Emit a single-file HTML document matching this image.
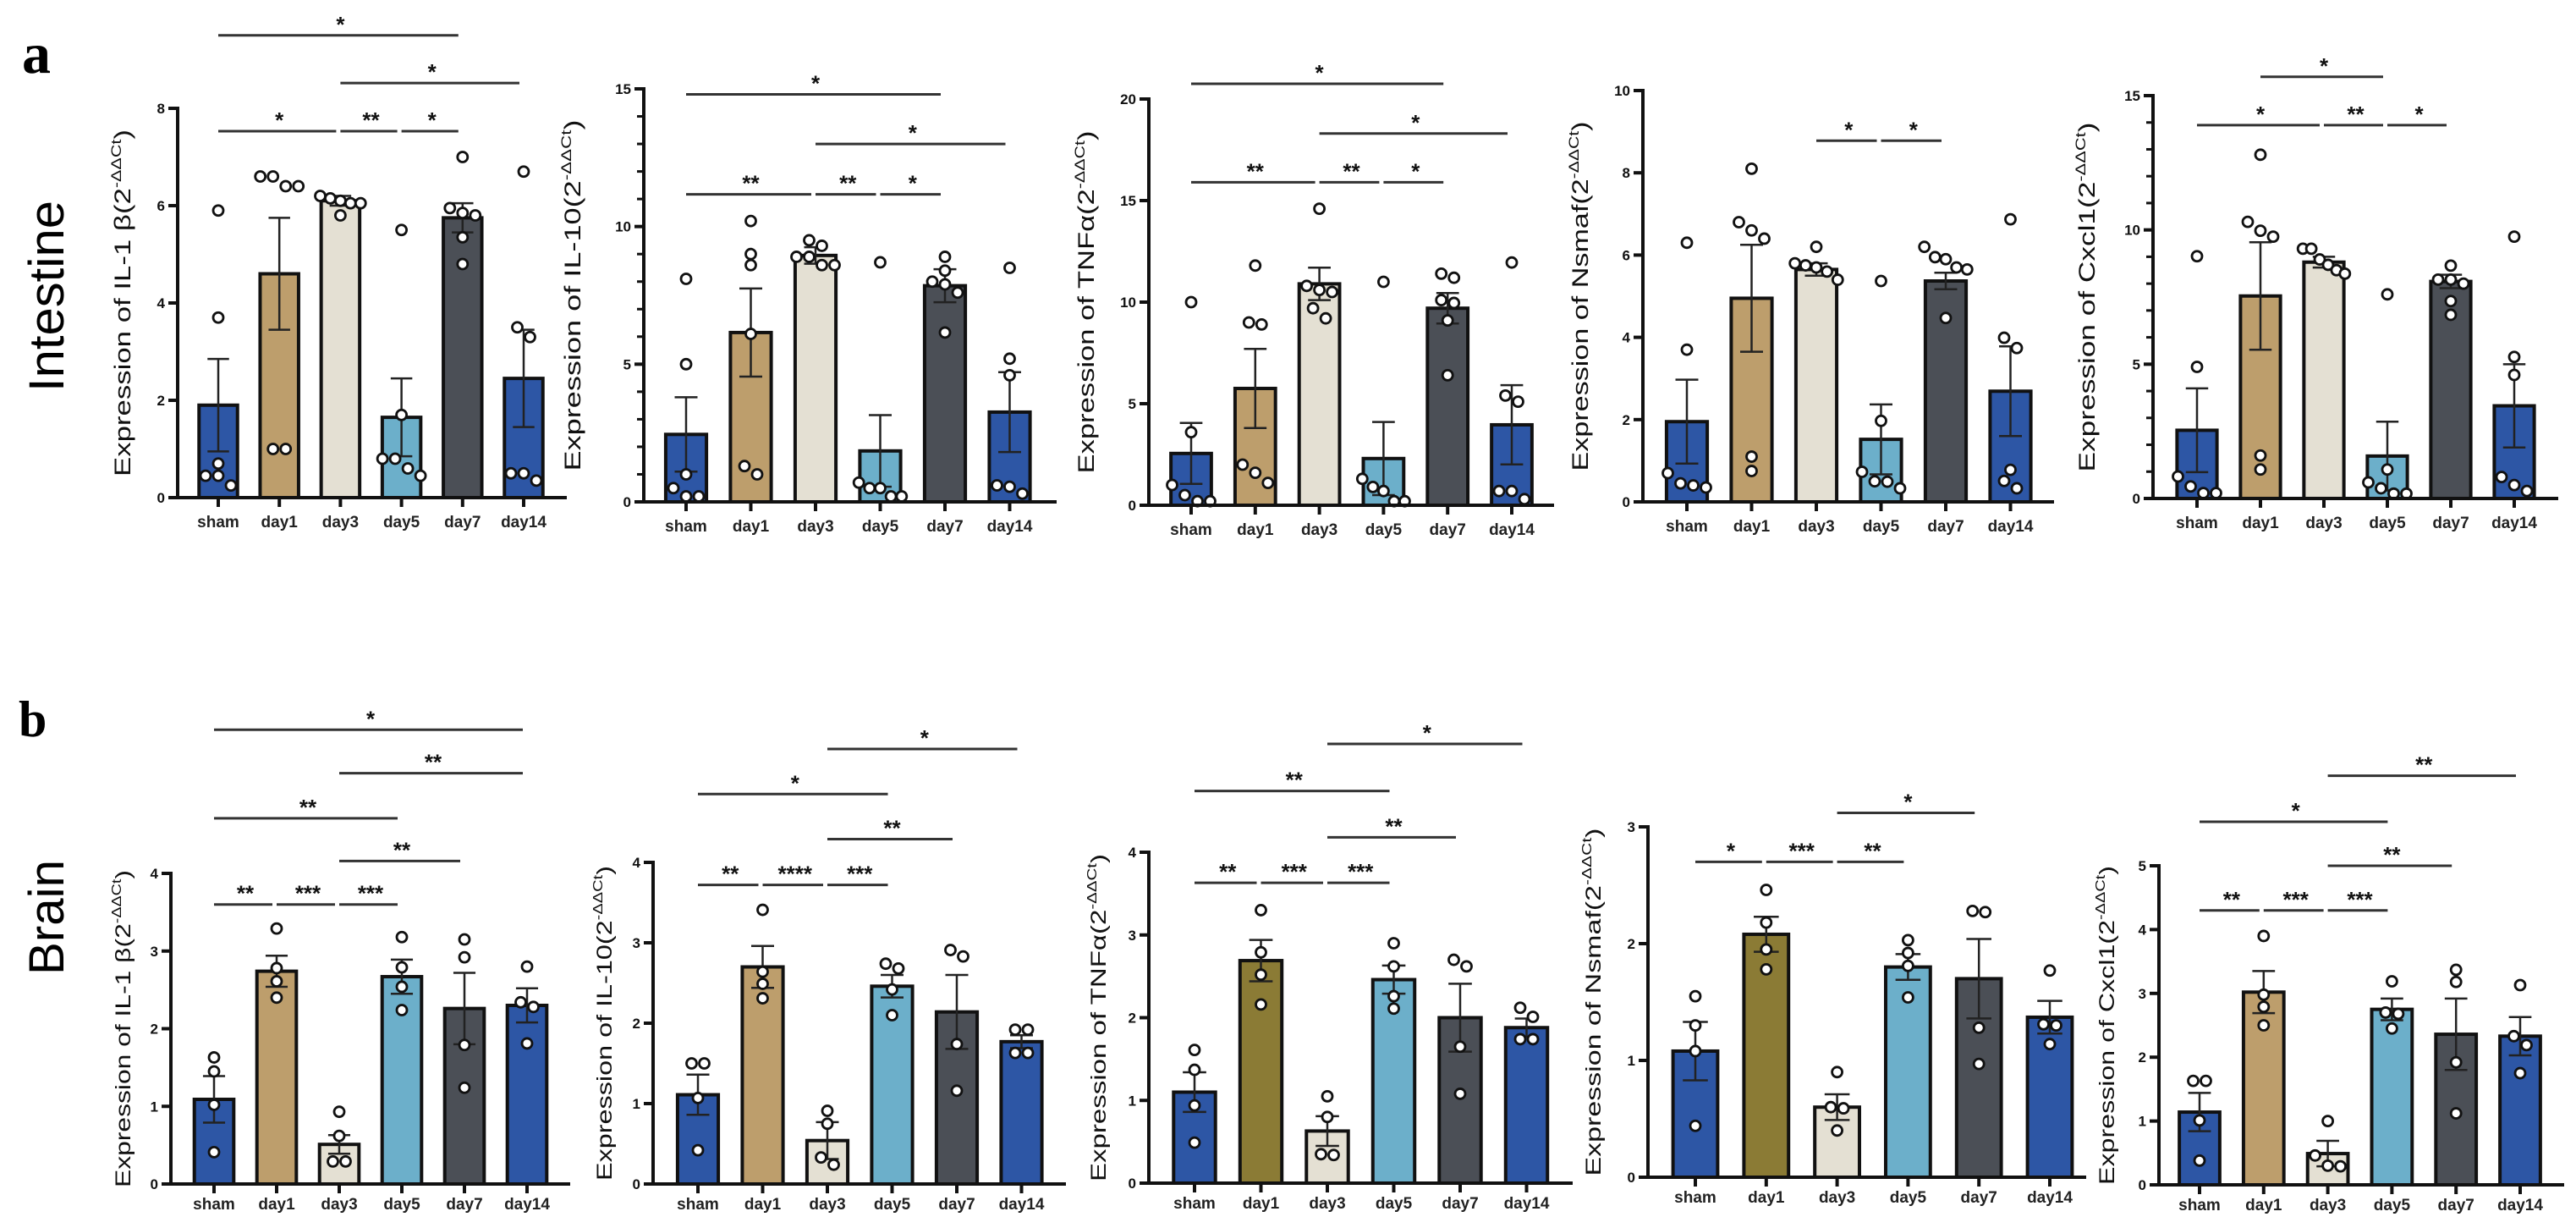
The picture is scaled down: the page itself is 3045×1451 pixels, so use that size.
<!DOCTYPE html>
<html><head><meta charset="utf-8"><style>
html,body{margin:0;padding:0;background:#fff;}
svg{display:block;font-family:"Liberation Sans",Arial,sans-serif;}
</style></head><body>
<svg id="fig" width="3045" height="1451" viewBox="0 0 3045 1451" xmlns="http://www.w3.org/2000/svg">
<text x="26" y="86" font-family="Liberation Serif,serif" font-weight="bold" font-size="68">a</text>
<text x="22" y="870" font-family="Liberation Serif,serif" font-weight="bold" font-size="60">b</text>
<text transform="translate(75,350) rotate(-90)" text-anchor="middle" font-size="58" textLength="226" lengthAdjust="spacingAndGlyphs">Intestine</text>
<text transform="translate(75,1084) rotate(-90)" text-anchor="middle" font-size="58" textLength="136" lengthAdjust="spacingAndGlyphs">Brain</text>
</svg>
<script>
const categories = ["sham","day1","day3","day5","day7","day14"];

// ---- Intestine IL-1b
const t1Means = [1.9, 4.6, 6.1, 1.65, 5.75, 2.45];
const t1Sems = [0.95, 1.15, 0.1, 0.8, 0.3, 1.0];
const t1Points = [[5.9,3.7,0.7,0.45,0.45,0.25],[6.6,6.4,6.6,6.4,1.0,1.0],[6.15,6.05,6.05,6.1,6.2,5.8],[5.5,1.7,0.8,0.8,0.45,0.6],[7.0,5.85,5.95,5.8,5.35,4.8],[6.7,3.5,3.3,0.5,0.35,0.5]];
const t1Sig = [[0,2,"*",7.53],[2,3,"**",7.53],[3,4,"*",7.53],[2,5,"*",8.52],[0,4,"*",9.5]];
const t1Ticks = [0,2,4,6,8];
// ---- Intestine IL-10
const t2Means = [2.45, 6.15, 8.95, 1.85, 7.85, 3.26];
const t2Sems = [1.35, 1.6, 0.3, 1.3, 0.6, 1.45];
const t2Points = [[8.1,5.0,1.0,0.5,0.2,0.2],[10.2,9.0,8.6,6.1,1.3,1.0],[9.3,9.5,8.9,8.6,8.6,8.9],[8.7,0.7,0.5,0.5,0.2,0.2],[8.9,8.4,8.0,7.9,7.6,6.15],[8.5,5.2,4.6,0.6,0.3,0.55]];
const t2Sig = [[0,2,"**",11.17],[2,3,"**",11.17],[3,4,"*",11.17],[2,5,"*",13.0],[0,4,"*",14.8]];
const t2Ticks = [0,5,10,15];
// ---- Intestine TNFa
const t3Means = [2.55, 5.75, 10.9, 2.3, 9.7, 3.96];
const t3Sems = [1.5, 1.95, 0.8, 1.8, 0.75, 1.95];
const t3Points = [[10.0,3.6,1.0,0.5,0.2,0.2],[11.8,9.0,8.9,2.0,1.6,1.1],[14.6,10.8,10.6,10.5,9.7,9.2],[11.0,1.3,0.7,0.9,0.2,0.2],[11.2,11.4,9.96,10.1,9.1,6.4],[11.95,5.4,5.1,0.3,0.7,0.7]];
const t3Sig = [[0,2,"**",15.9],[2,3,"**",15.9],[3,4,"*",15.9],[2,5,"*",18.3],[0,4,"*",20.75]];
const t3Ticks = [0,5,10,15,20];
// ---- Intestine Nsmaf
const t4Means = [1.95, 4.95, 5.65, 1.52, 5.37, 2.69];
const t4Sems = [1.02, 1.3, 0.15, 0.85, 0.2, 1.09];
const t4Points = [[6.3,3.7,0.7,0.45,0.35,0.4],[8.1,6.8,6.6,6.4,1.1,0.75],[6.2,5.8,5.75,5.7,5.6,5.4],[5.37,1.97,0.73,0.49,0.5,0.33],[6.2,5.9,5.95,5.7,5.65,4.47],[6.87,3.99,3.74,0.78,0.33,0.51]];
const t4Sig = [[2,3,"*",8.78],[3,4,"*",8.78]];
const t4Ticks = [0,2,4,6,8,10];
// ---- Intestine Cxcl1
const t5Means = [2.54, 7.54, 8.8, 1.58, 8.08, 3.45];
const t5Sems = [1.56, 2.0, 0.2, 1.28, 0.25, 1.55];
const t5Points = [[9.02,4.9,0.82,0.45,0.2,0.2],[12.8,10.3,9.75,9.97,1.6,1.08],[9.3,9.3,8.9,8.7,8.5,8.37],[7.6,1.08,0.6,0.38,0.18,0.18],[8.67,8.15,8.15,8.0,7.35,6.84],[9.75,5.27,4.6,0.8,0.5,0.28]];
const t5Sig = [[0,2,"*",13.9],[2,3,"**",13.9],[3,4,"*",13.9],[1,3,"*",15.7]];
const t5Ticks = [0,5,10,15];

// ---- Brain IL-1b
const b1Means = [1.09, 2.74, 0.51, 2.67, 2.26, 2.3];
const b1Sems = [0.3, 0.2, 0.12, 0.22, 0.46, 0.22];
const b1Points = [[1.63,1.45,1.02,0.41],[3.29,2.78,2.61,2.4],[0.93,0.62,0.29,0.29],[3.18,2.79,2.54,2.24],[3.15,2.92,1.79,1.24],[2.8,2.34,2.28,1.81]];
const b1Sig = [[0,1,"**",3.6],[1,2,"***",3.6],[2,3,"***",3.6],[2,4,"**",4.16],[0,3,"**",4.71],[2,5,"**",5.29],[0,5,"*",5.85]];
const b1Ticks = [0,1,2,3,4];
// ---- Brain IL-10
const b2Means = [1.11, 2.7, 0.54, 2.46, 2.14, 1.77];
const b2Sems = [0.25, 0.26, 0.23, 0.14, 0.46, 0.08];
const b2Points = [[1.5,1.5,1.07,0.42],[3.41,2.64,2.49,2.31],[0.91,0.75,0.24,0.33],[2.68,2.74,2.42,2.1],[2.83,2.91,1.74,1.16],[1.92,1.92,1.63,1.63]];
const b2Sig = [[0,1,"**",3.72],[1,2,"****",3.72],[2,3,"***",3.72],[2,4,"**",4.29],[0,3,"*",4.85],[2,5,"*",5.41]];
const b2Ticks = [0,1,2,3,4];
// ---- Brain TNFa
const b3Means = [1.1, 2.69, 0.63, 2.46, 2.0, 1.88];
const b3Sems = [0.24, 0.25, 0.18, 0.17, 0.41, 0.11];
const b3Points = [[1.61,1.37,0.94,0.49],[3.3,2.79,2.52,2.16],[1.05,0.8,0.34,0.35],[2.9,2.62,2.26,2.11],[2.62,2.7,1.65,1.08],[2.12,2.01,1.74,1.74]];
const b3Sig = [[0,1,"**",3.63],[1,2,"***",3.63],[2,3,"***",3.63],[2,4,"**",4.18],[0,3,"**",4.74],[2,5,"*",5.31]];
const b3Ticks = [0,1,2,3,4];
// ---- Brain Nsmaf
const b4Means = [1.08, 2.08, 0.6, 1.8, 1.7, 1.37];
const b4Sems = [0.25, 0.15, 0.11, 0.11, 0.34, 0.14];
const b4Points = [[1.55,1.3,1.08,0.44],[2.46,2.18,1.95,1.78],[0.9,0.6,0.59,0.4],[2.03,1.92,1.81,1.54],[2.27,2.28,1.28,0.97],[1.77,1.31,1.3,1.14]];
const b4Sig = [[0,1,"*",2.7],[1,2,"***",2.7],[2,3,"**",2.7],[2,4,"*",3.12]];
const b4Ticks = [0,1,2,3];
// ---- Brain Cxcl1
const b5Means = [1.14, 3.02, 0.49, 2.75, 2.36, 2.33];
const b5Sems = [0.3, 0.33, 0.2, 0.17, 0.56, 0.3];
const b5Points = [[1.63,1.63,1.01,0.38],[3.9,2.98,2.79,2.5],[1.0,0.46,0.29,0.3],[3.19,2.7,2.68,2.45],[3.37,3.18,1.92,1.12],[3.13,2.33,2.19,1.75]];
const b5Sig = [[0,1,"**",4.3],[1,2,"***",4.3],[2,3,"***",4.3],[2,4,"**",5.0],[0,3,"*",5.69],[2,5,"**",6.41]];
const b5Ticks = [0,1,2,3,4,5];

const NS = "http://www.w3.org/2000/svg";
const svg = document.getElementById("fig");
const BLUE="#2d56a5", TAN="#bd9e6c", BEIGE="#e4e0d3", LBLUE="#6cafca", DARK="#4b4f56", OLIVE="#8b7b35";
const colTan = [BLUE,TAN,BEIGE,LBLUE,DARK,BLUE];
const colOlive = [BLUE,OLIVE,BEIGE,LBLUE,DARK,BLUE];

function mk(tag, attrs, parent){
  const e = document.createElementNS(NS, tag);
  for (const k in attrs) e.setAttribute(k, attrs[k]);
  (parent||svg).appendChild(e);
  return e;
}

function drawPanel(p){
  const g = mk("g", {});
  
  
  const y = v => p.y0 - v*(p.y0 - p.yTop)/p.ymax;
  const x = i => p.first + i*p.step;
  const bw = p.step*0.63;
  // bars
  p.means.forEach((m,i)=>{
    const r = mk("rect",{x:x(i)-bw/2,y:y(m),width:bw,height:p.y0-y(m),fill:p.colors[i],stroke:"#111","stroke-width":4},g);
    
    
  });
  // error bars
  p.means.forEach((m,i)=>{
    const s = p.sems[i], cw = bw*0.28;
    const eg = mk("g",{stroke:"#222","stroke-width":2.5},g);
    
    
    mk("line",{x1:x(i),x2:x(i),y1:y(m+s),y2:y(Math.max(0,m-s))},eg);
    mk("line",{x1:x(i)-cw,x2:x(i)+cw,y1:y(m+s),y2:y(m+s)},eg);
    mk("line",{x1:x(i)-cw,x2:x(i)+cw,y1:y(Math.max(0,m-s)),y2:y(Math.max(0,m-s))},eg);
  });
  // points with beeswarm-like spread
  const rr = 6;
  p.points.forEach((pts,i)=>{
    const ys = pts.map(v=>y(v)).sort((a,b)=>a-b);
    const clusters=[]; let cur=[ys[0]];
    for(let k=1;k<ys.length;k++){ if(ys[k]-cur[cur.length-1] < 2*rr+1) cur.push(ys[k]); else {clusters.push(cur); cur=[ys[k]];} }
    clusters.push(cur);
    clusters.forEach(c=>{
      const n=c.length, dx = n>1 ? Math.min(2*rr+3, bw*1.05/(n-1)) : 0;
      c.forEach((py,j)=>{
        const c0 = mk("circle",{cx:x(i)+(j-(n-1)/2)*dx, cy:py, r:rr, fill:"#fff", stroke:"#111","stroke-width":2.8},g);
        
        
      });
    });
  });
  // axes
  const ax = mk("g",{stroke:"#111","stroke-width":4,fill:"none"},g);
  
  
  mk("line",{x1:p.ax,x2:p.ax,y1:p.yTop-2,y2:p.y0+2},ax);
  mk("line",{x1:p.ax-8,x2:p.xEnd,y1:p.y0,y2:p.y0},ax);
  p.ticks.forEach(t=>{
    mk("line",{x1:p.ax-11,x2:p.ax,y1:y(t),y2:y(t)},ax);
    const tl = mk("text",{x:p.ax-15,y:y(t)+6,"text-anchor":"end","font-size":17,"font-weight":"bold",fill:"#111",stroke:"none"},g);
    tl.textContent = t;
    
    
  });
  if (p.minor){
    for(let v=0; v<=p.ymax; v+=p.minor){ mk("line",{x1:p.ax-8,x2:p.ax,y1:y(v),y2:y(v),"stroke-width":3},ax); }
  }
  categories.forEach((c,i)=>{
    mk("line",{x1:x(i),x2:x(i),y1:p.y0,y2:p.y0+11},ax);
    const cl = mk("text",{x:x(i),y:p.y0+p.labOff,"text-anchor":"middle","font-size":19,"font-weight":"bold",fill:"#222"},g);
    cl.textContent = c;
    
    
  });
  // y title
  const tt = mk("text",{transform:`translate(${p.ax-p.titleOff},${(p.y0+p.yTop)/2}) rotate(-90)`,"text-anchor":"middle","font-size":p.titleSize,fill:"#111",textLength:p.titleLen,lengthAdjust:"spacingAndGlyphs"},g);
  
  
  const t1 = mk("tspan",{},tt); t1.textContent = "Expression of "+p.gene+"(2";
  const t2 = mk("tspan",{dy:-11,"font-size":p.titleSize*0.62},tt); t2.textContent = "-ΔΔCt";
  const t3 = mk("tspan",{dy:11},tt); t3.textContent = ")";
  // significance
  p.sig.forEach(s=>{
    const [a,b,lab,lv] = s;
    const sg = mk("g",{},g);
    
    
    mk("line",{x1:x(a),x2:x(b)-5,y1:y(lv),y2:y(lv),stroke:"#333","stroke-width":3},sg);
    const st = mk("text",{x:(x(a)+x(b))/2,y:y(lv)-4,"text-anchor":"middle","font-size":26,"font-weight":"bold",fill:"#111"},sg);
    st.textContent = lab;
  });
}

const panels = [
 {name:"intestine-il1b-chart",means:t1Means,sems:t1Sems,points:t1Points,sig:t1Sig,ticks:t1Ticks,ymax:8,ax:210,y0:588,yTop:128,first:258,step:72.2,xEnd:670,minor:0,colors:colTan,gene:"IL-1 β",titleOff:56,titleLen:410,titleSize:27,labOff:35},
 {name:"intestine-il10-chart",means:t2Means,sems:t2Sems,points:t2Points,sig:t2Sig,ticks:t2Ticks,ymax:15,ax:761,y0:593,yTop:105,first:811,step:76.5,xEnd:1249,minor:1,colors:colTan,gene:"IL-10",titleOff:75,titleLen:415,titleSize:27,labOff:35},
 {name:"intestine-tnfa-chart",means:t3Means,sems:t3Sems,points:t3Points,sig:t3Sig,ticks:t3Ticks,ymax:20,ax:1358,y0:597,yTop:117,first:1408,step:75.8,xEnd:1837,minor:0,colors:colTan,gene:"TNFα",titleOff:65,titleLen:405,titleSize:27,labOff:35},
 {name:"intestine-nsmaf-chart",means:t4Means,sems:t4Sems,points:t4Points,sig:t4Sig,ticks:t4Ticks,ymax:10,ax:1942,y0:593,yTop:107,first:1994,step:76.5,xEnd:2428,minor:0,colors:colTan,gene:"Nsmaf",titleOff:65,titleLen:413,titleSize:27,labOff:35},
 {name:"intestine-cxcl1-chart",means:t5Means,sems:t5Sems,points:t5Points,sig:t5Sig,ticks:t5Ticks,ymax:15,ax:2545,y0:589,yTop:113,first:2597,step:75,xEnd:3024,minor:1,colors:colTan,gene:"Cxcl1",titleOff:69,titleLen:413,titleSize:27,labOff:35},
 {name:"brain-il1b-chart",means:b1Means,sems:b1Sems,points:b1Points,sig:b1Sig,ticks:b1Ticks,ymax:4,ax:202,y0:1399,yTop:1032,first:253,step:74,xEnd:674,minor:0,colors:colTan,gene:"IL-1 β",titleOff:48,titleLen:375,titleSize:25,labOff:30},
 {name:"brain-il10-chart",means:b2Means,sems:b2Sems,points:b2Points,sig:b2Sig,ticks:b2Ticks,ymax:4,ax:772,y0:1399,yTop:1019,first:825,step:76.5,xEnd:1260,minor:0,colors:colTan,gene:"IL-10",titleOff:49,titleLen:372,titleSize:25,labOff:30},
 {name:"brain-tnfa-chart",means:b3Means,sems:b3Sems,points:b3Points,sig:b3Sig,ticks:b3Ticks,ymax:4,ax:1358,y0:1398,yTop:1007,first:1412,step:78.5,xEnd:1859,minor:0,colors:colOlive,gene:"TNFα",titleOff:51,titleLen:387,titleSize:25,labOff:30},
 {name:"brain-nsmaf-chart",means:b4Means,sems:b4Sems,points:b4Points,sig:b4Sig,ticks:b4Ticks,ymax:3,ax:1948,y0:1391,yTop:977,first:2004,step:83.8,xEnd:2466,minor:0,colors:colOlive,gene:"Nsmaf",titleOff:56,titleLen:411,titleSize:25,labOff:30},
 {name:"brain-cxcl1-chart",means:b5Means,sems:b5Sems,points:b5Points,sig:b5Sig,ticks:b5Ticks,ymax:5,ax:2552,y0:1400,yTop:1023,first:2600,step:75.8,xEnd:3031,minor:0,colors:colTan,gene:"Cxcl1",titleOff:53,titleLen:377,titleSize:25,labOff:30}
];
panels.forEach(drawPanel);
</script>
</body></html>
